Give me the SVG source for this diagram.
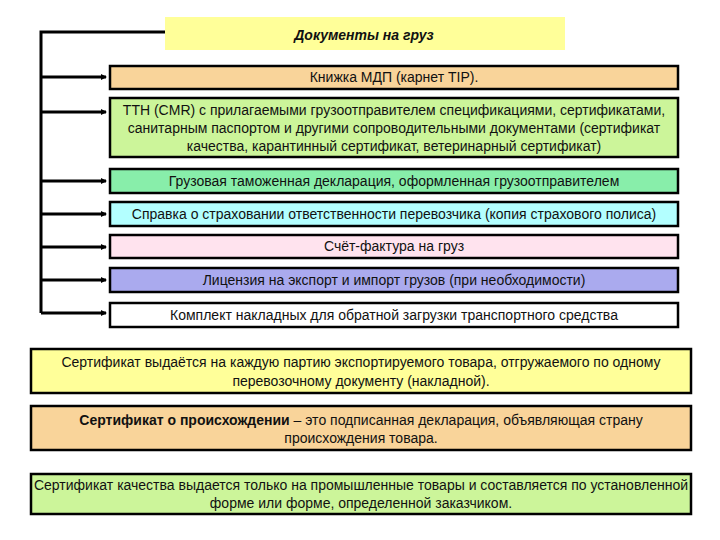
<svg xmlns="http://www.w3.org/2000/svg" width="720" height="540" viewBox="0 0 720 540">
<style>
.b{stroke:#000;stroke-width:2.5}
.t{font-family:"Liberation Sans",Arial,sans-serif;font-size:14px;fill:#111;text-anchor:middle}
.c{stroke:#000;stroke-width:3;fill:none}
</style>
<defs><marker id="a" markerWidth="6" markerHeight="6" refX="5" refY="3" orient="auto" markerUnits="userSpaceOnUse"><path d="M0,0 L6,3 L0,6 z" fill="#000"/></marker></defs>
<rect width="720" height="540" fill="#fff"/>
<g id="connectors">
<path class="c" d="M165,32 H41 V313"/>
<path class="c" d="M41,77 H106" marker-end="url(#a)"/>
<path class="c" d="M41,112 H106" marker-end="url(#a)"/>
<path class="c" d="M41,181 H106" marker-end="url(#a)"/>
<path class="c" d="M41,214 H106" marker-end="url(#a)"/>
<path class="c" d="M41,247 H106" marker-end="url(#a)"/>
<path class="c" d="M41,280 H106" marker-end="url(#a)"/>
<path class="c" d="M41,313 H106" marker-end="url(#a)"/>
</g>
<g id="title"><rect x="165" y="17" width="400" height="33" fill="#FFFF99"/><text class="t" x="364" y="40" font-weight="bold" font-style="italic" font-size="15.5">Документы на груз</text></g>
<g id="n1"><rect class="b" x="110" y="66" width="568" height="23" fill="#F9D49A"/><text class="t" x="394" y="82">Книжка МДП (карнет TIP).</text></g>
<g id="n2"><rect class="b" x="110" y="98" width="568" height="59" fill="#CCF59A"/><text class="t" x="394" y="115">ТТН (CMR) с прилагаемыми грузоотправителем спецификациями, сертификатами,</text><text class="t" x="394" y="133">санитарным паспортом и другими сопроводительными документами  (сертификат</text><text class="t" x="394" y="151">качества,  карантинный сертификат, ветеринарный сертификат)</text></g>
<g id="n3"><rect class="b" x="110" y="169" width="568" height="24" fill="#88EEAA"/><text class="t" x="394" y="186">Грузовая таможенная декларация, оформленная грузоотправителем</text></g>
<g id="n4"><rect class="b" x="110" y="202" width="568" height="24" fill="#B3FFFF"/><text class="t" x="394" y="219">Справка о страховании ответственности перевозчика (копия страхового полиса)</text></g>
<g id="n5"><rect class="b" x="110" y="235" width="568" height="23" fill="#FFE3EE"/><text class="t" x="394" y="251">Счёт-фактура на груз</text></g>
<g id="n6"><rect class="b" x="110" y="268" width="568" height="24" fill="#AAAAEE"/><text class="t" x="394" y="285">Лицензия на экспорт и импорт грузов (при необходимости)</text></g>
<g id="n7"><rect class="b" x="110" y="303" width="568" height="24" fill="#fff"/><text class="t" x="394" y="320">Комплект накладных для обратной загрузки транспортного средства</text></g>
<g id="n8"><rect class="b" x="31" y="349" width="660" height="44" fill="#FFFF99"/><text class="t" x="361" y="367">Сертификат выдаётся на каждую партию экспортируемого товара, отгружаемого по одному</text><text class="t" x="361" y="386">перевозочному документу (накладной).</text></g>
<g id="n9"><rect class="b" x="31" y="406" width="660" height="44" fill="#F9D49A"/><text class="t" x="361" y="425"><tspan font-weight="bold">Сертификат о происхождении</tspan> – это подписанная декларация, объявляющая страну</text><text class="t" x="361" y="443">происхождения товара.</text></g>
<g id="n10"><rect class="b" x="31" y="474" width="660" height="40" fill="#CCF59A"/><text class="t" x="361" y="490">Сертификат качества выдается только на промышленные товары и составляется по установленной</text><text class="t" x="361" y="508">форме или форме, определенной заказчиком.</text></g>
</svg>
